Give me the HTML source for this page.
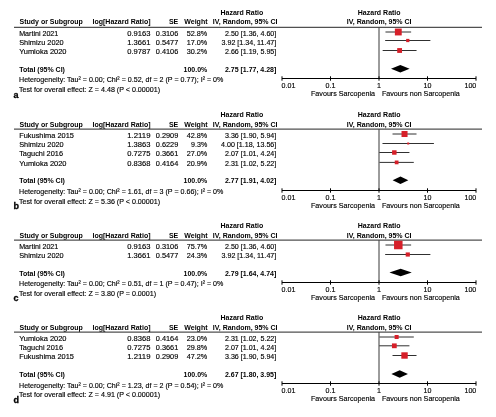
<!DOCTYPE html>
<html><head><meta charset="utf-8"><title>Forest plots</title>
<style>html,body{margin:0;padding:0;background:#fff;}body{width:496px;height:417px;overflow:hidden;font-family:"Liberation Sans",sans-serif;}svg{display:block;will-change:transform;}</style>
</head><body>
<svg width="496" height="417" viewBox="0 0 496 417" font-family="Liberation Sans, sans-serif"><text x="220.50" y="15.10" font-size="7" font-weight="bold" fill="#000">Hazard Ratio</text>
<text x="379.20" y="15.10" font-size="7" font-weight="bold" text-anchor="middle" fill="#000">Hazard Ratio</text>
<text x="19.50" y="24.30" font-size="7" font-weight="bold" fill="#000">Study or Subgroup</text>
<text x="150.50" y="24.30" font-size="7" font-weight="bold" text-anchor="end" fill="#000">log[Hazard Ratio]</text>
<text x="178.30" y="24.30" font-size="7" font-weight="bold" text-anchor="end" fill="#000">SE</text>
<text x="207.50" y="24.30" font-size="7" font-weight="bold" text-anchor="end" fill="#000">Weight</text>
<text x="212.80" y="24.30" font-size="7" font-weight="bold" fill="#000">IV, Random, 95% CI</text>
<text x="379.20" y="24.30" font-size="7" font-weight="bold" text-anchor="middle" fill="#000">IV, Random, 95% CI</text>
<line x1="14.00" y1="27.30" x2="482.00" y2="27.30" stroke="#505050" stroke-width="1.2"/>
<text x="19.20" y="35.75" font-size="7.5" fill="#000" stroke="#000" stroke-width="0.15" textLength="39.07" lengthAdjust="spacingAndGlyphs">Martini 2021</text>
<text x="150.50" y="35.75" font-size="7.5" text-anchor="end" fill="#000" stroke="#000" stroke-width="0.15" textLength="23.20" lengthAdjust="spacingAndGlyphs">0.9163</text>
<text x="178.30" y="35.75" font-size="7.5" text-anchor="end" fill="#000" stroke="#000" stroke-width="0.15" textLength="22.50" lengthAdjust="spacingAndGlyphs">0.3106</text>
<text x="207.30" y="35.75" font-size="7.5" text-anchor="end" fill="#000" stroke="#000" stroke-width="0.15" textLength="20.60" lengthAdjust="spacingAndGlyphs">52.8%</text>
<text x="276.30" y="35.75" font-size="7.5" text-anchor="end" fill="#000" stroke="#000" stroke-width="0.15" textLength="51.32" lengthAdjust="spacingAndGlyphs">2.50 [1.36, 4.60]</text>
<line x1="385.48" y1="32.00" x2="411.14" y2="32.00" stroke="#303030" stroke-width="1"/>
<rect x="394.87" y="28.57" width="6.86" height="6.86" fill="#d61f29"/>
<text x="19.20" y="44.50" font-size="7.5" fill="#000" stroke="#000" stroke-width="0.15" textLength="44.50" lengthAdjust="spacingAndGlyphs">Shimizu 2020</text>
<text x="150.50" y="44.50" font-size="7.5" text-anchor="end" fill="#000" stroke="#000" stroke-width="0.15" textLength="23.20" lengthAdjust="spacingAndGlyphs">1.3661</text>
<text x="178.30" y="44.50" font-size="7.5" text-anchor="end" fill="#000" stroke="#000" stroke-width="0.15" textLength="22.50" lengthAdjust="spacingAndGlyphs">0.5477</text>
<text x="207.30" y="44.50" font-size="7.5" text-anchor="end" fill="#000" stroke="#000" stroke-width="0.15" textLength="20.60" lengthAdjust="spacingAndGlyphs">17.0%</text>
<text x="276.30" y="44.50" font-size="7.5" text-anchor="end" fill="#000" stroke="#000" stroke-width="0.15" textLength="54.74" lengthAdjust="spacingAndGlyphs">3.92 [1.34, 11.47]</text>
<line x1="385.16" y1="40.50" x2="430.39" y2="40.50" stroke="#303030" stroke-width="1"/>
<rect x="406.15" y="38.88" width="3.24" height="3.24" fill="#d61f29"/>
<text x="19.20" y="53.75" font-size="7.5" fill="#000" stroke="#000" stroke-width="0.15" textLength="47.30" lengthAdjust="spacingAndGlyphs">Yumioka 2020</text>
<text x="150.50" y="53.75" font-size="7.5" text-anchor="end" fill="#000" stroke="#000" stroke-width="0.15" textLength="23.20" lengthAdjust="spacingAndGlyphs">0.9787</text>
<text x="178.30" y="53.75" font-size="7.5" text-anchor="end" fill="#000" stroke="#000" stroke-width="0.15" textLength="22.50" lengthAdjust="spacingAndGlyphs">0.4106</text>
<text x="207.30" y="53.75" font-size="7.5" text-anchor="end" fill="#000" stroke="#000" stroke-width="0.15" textLength="20.60" lengthAdjust="spacingAndGlyphs">30.2%</text>
<text x="276.30" y="53.75" font-size="7.5" text-anchor="end" fill="#000" stroke="#000" stroke-width="0.15" textLength="51.32" lengthAdjust="spacingAndGlyphs">2.66 [1.19, 5.95]</text>
<line x1="382.66" y1="50.50" x2="416.56" y2="50.50" stroke="#303030" stroke-width="1"/>
<rect x="397.20" y="48.09" width="4.82" height="4.82" fill="#d61f29"/>
<text x="19.20" y="71.75" font-size="7" font-weight="bold" fill="#000">Total (95% CI)</text>
<text x="207.30" y="71.75" font-size="7" font-weight="bold" text-anchor="end" fill="#000">100.0%</text>
<text x="276.30" y="71.75" font-size="7" font-weight="bold" text-anchor="end" fill="#000">2.75 [1.77, 4.28]</text>
<polygon points="391.03,68.85 400.31,65.10 409.63,68.85 400.31,72.60" fill="#000"/>
<text x="19.00" y="82.30" font-size="7.5" fill="#000" stroke="#000" stroke-width="0.15" textLength="204.38" lengthAdjust="spacingAndGlyphs">Heterogeneity: Tau² = 0.00; Chi² = 0.52, df = 2 (P = 0.77); I² = 0%</text>
<text x="19.00" y="92.20" font-size="7.5" fill="#000" stroke="#000" stroke-width="0.15" textLength="141.03" lengthAdjust="spacingAndGlyphs">Test for overall effect: Z = 4.48 (P &lt; 0.00001)</text>
<text x="13.40" y="98.00" font-size="9" font-weight="bold" fill="#000" stroke="#000" stroke-width="0.3">a</text>
<line x1="379.00" y1="27.30" x2="379.00" y2="78.50" stroke="#383838" stroke-width="1"/>
<line x1="282.00" y1="78.50" x2="476.00" y2="78.50" stroke="#000" stroke-width="1"/>
<line x1="282.00" y1="76.30" x2="282.00" y2="80.70" stroke="#000" stroke-width="1"/>
<line x1="330.50" y1="76.30" x2="330.50" y2="80.70" stroke="#000" stroke-width="1"/>
<line x1="379.00" y1="76.30" x2="379.00" y2="80.70" stroke="#000" stroke-width="1"/>
<line x1="427.50" y1="76.30" x2="427.50" y2="80.70" stroke="#000" stroke-width="1"/>
<line x1="476.00" y1="76.30" x2="476.00" y2="80.70" stroke="#000" stroke-width="1"/>
<text x="281.60" y="87.60" font-size="7.5" fill="#000" stroke="#000" stroke-width="0.15" textLength="13.82" lengthAdjust="spacingAndGlyphs">0.01</text>
<text x="330.50" y="87.60" font-size="7.5" text-anchor="middle" fill="#000" stroke="#000" stroke-width="0.15" textLength="9.87" lengthAdjust="spacingAndGlyphs">0.1</text>
<text x="379.00" y="87.60" font-size="7.5" text-anchor="middle" fill="#000" stroke="#000" stroke-width="0.15" textLength="3.95" lengthAdjust="spacingAndGlyphs">1</text>
<text x="427.50" y="87.60" font-size="7.5" text-anchor="middle" fill="#000" stroke="#000" stroke-width="0.15" textLength="7.90" lengthAdjust="spacingAndGlyphs">10</text>
<text x="476.30" y="87.60" font-size="7.5" text-anchor="end" fill="#000" stroke="#000" stroke-width="0.15" textLength="11.85" lengthAdjust="spacingAndGlyphs">100</text>
<text x="375.00" y="95.70" font-size="7.5" text-anchor="end" fill="#000" stroke="#000" stroke-width="0.15" textLength="63.99" lengthAdjust="spacingAndGlyphs">Favours Sarcopenia</text>
<text x="381.90" y="95.70" font-size="7.5" fill="#000" stroke="#000" stroke-width="0.15" textLength="77.90" lengthAdjust="spacingAndGlyphs">Favours non Sarcopenia</text>
<text x="220.50" y="116.80" font-size="7" font-weight="bold" fill="#000">Hazard Ratio</text>
<text x="379.20" y="116.80" font-size="7" font-weight="bold" text-anchor="middle" fill="#000">Hazard Ratio</text>
<text x="19.50" y="126.50" font-size="7" font-weight="bold" fill="#000">Study or Subgroup</text>
<text x="150.50" y="126.50" font-size="7" font-weight="bold" text-anchor="end" fill="#000">log[Hazard Ratio]</text>
<text x="178.30" y="126.50" font-size="7" font-weight="bold" text-anchor="end" fill="#000">SE</text>
<text x="207.50" y="126.50" font-size="7" font-weight="bold" text-anchor="end" fill="#000">Weight</text>
<text x="212.80" y="126.50" font-size="7" font-weight="bold" fill="#000">IV, Random, 95% CI</text>
<text x="379.20" y="126.50" font-size="7" font-weight="bold" text-anchor="middle" fill="#000">IV, Random, 95% CI</text>
<line x1="14.00" y1="129.10" x2="482.00" y2="129.10" stroke="#505050" stroke-width="1.2"/>
<text x="19.20" y="138.00" font-size="7.5" fill="#000" stroke="#000" stroke-width="0.15" textLength="54.70" lengthAdjust="spacingAndGlyphs">Fukushima 2015</text>
<text x="150.50" y="138.00" font-size="7.5" text-anchor="end" fill="#000" stroke="#000" stroke-width="0.15" textLength="23.20" lengthAdjust="spacingAndGlyphs">1.2119</text>
<text x="178.30" y="138.00" font-size="7.5" text-anchor="end" fill="#000" stroke="#000" stroke-width="0.15" textLength="22.50" lengthAdjust="spacingAndGlyphs">0.2909</text>
<text x="207.30" y="138.00" font-size="7.5" text-anchor="end" fill="#000" stroke="#000" stroke-width="0.15" textLength="20.60" lengthAdjust="spacingAndGlyphs">42.8%</text>
<text x="276.30" y="138.00" font-size="7.5" text-anchor="end" fill="#000" stroke="#000" stroke-width="0.15" textLength="51.32" lengthAdjust="spacingAndGlyphs">3.36 [1.90, 5.94]</text>
<line x1="392.52" y1="134.00" x2="416.53" y2="134.00" stroke="#303030" stroke-width="1"/>
<rect x="401.52" y="130.99" width="6.02" height="6.02" fill="#d61f29"/>
<text x="19.20" y="147.00" font-size="7.5" fill="#000" stroke="#000" stroke-width="0.15" textLength="44.50" lengthAdjust="spacingAndGlyphs">Shimizu 2020</text>
<text x="150.50" y="147.00" font-size="7.5" text-anchor="end" fill="#000" stroke="#000" stroke-width="0.15" textLength="23.20" lengthAdjust="spacingAndGlyphs">1.3863</text>
<text x="178.30" y="147.00" font-size="7.5" text-anchor="end" fill="#000" stroke="#000" stroke-width="0.15" textLength="22.50" lengthAdjust="spacingAndGlyphs">0.6229</text>
<text x="207.30" y="147.00" font-size="7.5" text-anchor="end" fill="#000" stroke="#000" stroke-width="0.15" textLength="16.18" lengthAdjust="spacingAndGlyphs">9.3%</text>
<text x="276.30" y="147.00" font-size="7.5" text-anchor="end" fill="#000" stroke="#000" stroke-width="0.15" textLength="55.27" lengthAdjust="spacingAndGlyphs">4.00 [1.18, 13.56]</text>
<line x1="382.49" y1="143.50" x2="433.91" y2="143.50" stroke="#303030" stroke-width="1"/>
<rect x="407.20" y="142.50" width="2.01" height="2.01" fill="#d61f29"/>
<text x="19.20" y="156.00" font-size="7.5" fill="#000" stroke="#000" stroke-width="0.15" textLength="43.80" lengthAdjust="spacingAndGlyphs">Taguchi 2016</text>
<text x="150.50" y="156.00" font-size="7.5" text-anchor="end" fill="#000" stroke="#000" stroke-width="0.15" textLength="23.20" lengthAdjust="spacingAndGlyphs">0.7275</text>
<text x="178.30" y="156.00" font-size="7.5" text-anchor="end" fill="#000" stroke="#000" stroke-width="0.15" textLength="22.50" lengthAdjust="spacingAndGlyphs">0.3661</text>
<text x="207.30" y="156.00" font-size="7.5" text-anchor="end" fill="#000" stroke="#000" stroke-width="0.15" textLength="20.60" lengthAdjust="spacingAndGlyphs">27.0%</text>
<text x="276.30" y="156.00" font-size="7.5" text-anchor="end" fill="#000" stroke="#000" stroke-width="0.15" textLength="51.32" lengthAdjust="spacingAndGlyphs">2.07 [1.01, 4.24]</text>
<line x1="379.21" y1="152.50" x2="409.43" y2="152.50" stroke="#303030" stroke-width="1"/>
<rect x="392.09" y="150.26" width="4.48" height="4.48" fill="#d61f29"/>
<text x="19.20" y="165.50" font-size="7.5" fill="#000" stroke="#000" stroke-width="0.15" textLength="47.30" lengthAdjust="spacingAndGlyphs">Yumioka 2020</text>
<text x="150.50" y="165.50" font-size="7.5" text-anchor="end" fill="#000" stroke="#000" stroke-width="0.15" textLength="23.20" lengthAdjust="spacingAndGlyphs">0.8368</text>
<text x="178.30" y="165.50" font-size="7.5" text-anchor="end" fill="#000" stroke="#000" stroke-width="0.15" textLength="22.50" lengthAdjust="spacingAndGlyphs">0.4164</text>
<text x="207.30" y="165.50" font-size="7.5" text-anchor="end" fill="#000" stroke="#000" stroke-width="0.15" textLength="20.60" lengthAdjust="spacingAndGlyphs">20.9%</text>
<text x="276.30" y="165.50" font-size="7.5" text-anchor="end" fill="#000" stroke="#000" stroke-width="0.15" textLength="51.32" lengthAdjust="spacingAndGlyphs">2.31 [1.02, 5.22]</text>
<line x1="379.42" y1="162.40" x2="413.81" y2="162.40" stroke="#303030" stroke-width="1"/>
<rect x="394.76" y="160.52" width="3.76" height="3.76" fill="#d61f29"/>
<text x="19.20" y="183.10" font-size="7" font-weight="bold" fill="#000">Total (95% CI)</text>
<text x="207.30" y="183.10" font-size="7" font-weight="bold" text-anchor="end" fill="#000">100.0%</text>
<text x="276.30" y="183.10" font-size="7" font-weight="bold" text-anchor="end" fill="#000">2.77 [1.91, 4.02]</text>
<polygon points="392.63,180.20 400.46,176.45 408.30,180.20 400.46,183.95" fill="#000"/>
<text x="19.00" y="194.00" font-size="7.5" fill="#000" stroke="#000" stroke-width="0.15" textLength="204.38" lengthAdjust="spacingAndGlyphs">Heterogeneity: Tau² = 0.00; Chi² = 1.61, df = 3 (P = 0.66); I² = 0%</text>
<text x="19.00" y="204.10" font-size="7.5" fill="#000" stroke="#000" stroke-width="0.15" textLength="141.03" lengthAdjust="spacingAndGlyphs">Test for overall effect: Z = 5.36 (P &lt; 0.00001)</text>
<text x="13.40" y="209.00" font-size="9" font-weight="bold" fill="#000" stroke="#000" stroke-width="0.3">b</text>
<line x1="379.00" y1="129.10" x2="379.00" y2="190.50" stroke="#383838" stroke-width="1"/>
<line x1="282.00" y1="190.50" x2="476.00" y2="190.50" stroke="#000" stroke-width="1"/>
<line x1="282.00" y1="188.30" x2="282.00" y2="192.70" stroke="#000" stroke-width="1"/>
<line x1="330.50" y1="188.30" x2="330.50" y2="192.70" stroke="#000" stroke-width="1"/>
<line x1="379.00" y1="188.30" x2="379.00" y2="192.70" stroke="#000" stroke-width="1"/>
<line x1="427.50" y1="188.30" x2="427.50" y2="192.70" stroke="#000" stroke-width="1"/>
<line x1="476.00" y1="188.30" x2="476.00" y2="192.70" stroke="#000" stroke-width="1"/>
<text x="281.60" y="199.60" font-size="7.5" fill="#000" stroke="#000" stroke-width="0.15" textLength="13.82" lengthAdjust="spacingAndGlyphs">0.01</text>
<text x="330.50" y="199.60" font-size="7.5" text-anchor="middle" fill="#000" stroke="#000" stroke-width="0.15" textLength="9.87" lengthAdjust="spacingAndGlyphs">0.1</text>
<text x="379.00" y="199.60" font-size="7.5" text-anchor="middle" fill="#000" stroke="#000" stroke-width="0.15" textLength="3.95" lengthAdjust="spacingAndGlyphs">1</text>
<text x="427.50" y="199.60" font-size="7.5" text-anchor="middle" fill="#000" stroke="#000" stroke-width="0.15" textLength="7.90" lengthAdjust="spacingAndGlyphs">10</text>
<text x="476.30" y="199.60" font-size="7.5" text-anchor="end" fill="#000" stroke="#000" stroke-width="0.15" textLength="11.85" lengthAdjust="spacingAndGlyphs">100</text>
<text x="375.00" y="207.80" font-size="7.5" text-anchor="end" fill="#000" stroke="#000" stroke-width="0.15" textLength="63.99" lengthAdjust="spacingAndGlyphs">Favours Sarcopenia</text>
<text x="381.90" y="207.80" font-size="7.5" fill="#000" stroke="#000" stroke-width="0.15" textLength="77.90" lengthAdjust="spacingAndGlyphs">Favours non Sarcopenia</text>
<text x="220.50" y="227.80" font-size="7" font-weight="bold" fill="#000">Hazard Ratio</text>
<text x="379.20" y="227.80" font-size="7" font-weight="bold" text-anchor="middle" fill="#000">Hazard Ratio</text>
<text x="19.50" y="237.50" font-size="7" font-weight="bold" fill="#000">Study or Subgroup</text>
<text x="150.50" y="237.50" font-size="7" font-weight="bold" text-anchor="end" fill="#000">log[Hazard Ratio]</text>
<text x="178.30" y="237.50" font-size="7" font-weight="bold" text-anchor="end" fill="#000">SE</text>
<text x="207.50" y="237.50" font-size="7" font-weight="bold" text-anchor="end" fill="#000">Weight</text>
<text x="212.80" y="237.50" font-size="7" font-weight="bold" fill="#000">IV, Random, 95% CI</text>
<text x="379.20" y="237.50" font-size="7" font-weight="bold" text-anchor="middle" fill="#000">IV, Random, 95% CI</text>
<line x1="14.00" y1="240.20" x2="482.00" y2="240.20" stroke="#505050" stroke-width="1.2"/>
<text x="19.20" y="248.60" font-size="7.5" fill="#000" stroke="#000" stroke-width="0.15" textLength="39.07" lengthAdjust="spacingAndGlyphs">Martini 2021</text>
<text x="150.50" y="248.60" font-size="7.5" text-anchor="end" fill="#000" stroke="#000" stroke-width="0.15" textLength="23.20" lengthAdjust="spacingAndGlyphs">0.9163</text>
<text x="178.30" y="248.60" font-size="7.5" text-anchor="end" fill="#000" stroke="#000" stroke-width="0.15" textLength="22.50" lengthAdjust="spacingAndGlyphs">0.3106</text>
<text x="207.30" y="248.60" font-size="7.5" text-anchor="end" fill="#000" stroke="#000" stroke-width="0.15" textLength="20.60" lengthAdjust="spacingAndGlyphs">75.7%</text>
<text x="276.30" y="248.60" font-size="7.5" text-anchor="end" fill="#000" stroke="#000" stroke-width="0.15" textLength="51.32" lengthAdjust="spacingAndGlyphs">2.50 [1.36, 4.60]</text>
<line x1="385.48" y1="245.00" x2="411.14" y2="245.00" stroke="#303030" stroke-width="1"/>
<rect x="394.05" y="240.75" width="8.51" height="8.51" fill="#d61f29"/>
<text x="19.20" y="258.30" font-size="7.5" fill="#000" stroke="#000" stroke-width="0.15" textLength="44.50" lengthAdjust="spacingAndGlyphs">Shimizu 2020</text>
<text x="150.50" y="258.30" font-size="7.5" text-anchor="end" fill="#000" stroke="#000" stroke-width="0.15" textLength="23.20" lengthAdjust="spacingAndGlyphs">1.3661</text>
<text x="178.30" y="258.30" font-size="7.5" text-anchor="end" fill="#000" stroke="#000" stroke-width="0.15" textLength="22.50" lengthAdjust="spacingAndGlyphs">0.5477</text>
<text x="207.30" y="258.30" font-size="7.5" text-anchor="end" fill="#000" stroke="#000" stroke-width="0.15" textLength="20.60" lengthAdjust="spacingAndGlyphs">24.3%</text>
<text x="276.30" y="258.30" font-size="7.5" text-anchor="end" fill="#000" stroke="#000" stroke-width="0.15" textLength="54.74" lengthAdjust="spacingAndGlyphs">3.92 [1.34, 11.47]</text>
<line x1="385.16" y1="254.50" x2="430.39" y2="254.50" stroke="#303030" stroke-width="1"/>
<rect x="405.69" y="252.42" width="4.17" height="4.17" fill="#d61f29"/>
<text x="19.20" y="275.50" font-size="7" font-weight="bold" fill="#000">Total (95% CI)</text>
<text x="207.30" y="275.50" font-size="7" font-weight="bold" text-anchor="end" fill="#000">100.0%</text>
<text x="276.30" y="275.50" font-size="7" font-weight="bold" text-anchor="end" fill="#000">2.79 [1.64, 4.74]</text>
<polygon points="389.42,272.60 400.61,268.85 411.78,272.60 400.61,276.35" fill="#000"/>
<text x="19.00" y="286.40" font-size="7.5" fill="#000" stroke="#000" stroke-width="0.15" textLength="204.38" lengthAdjust="spacingAndGlyphs">Heterogeneity: Tau² = 0.00; Chi² = 0.51, df = 1 (P = 0.47); I² = 0%</text>
<text x="19.00" y="296.00" font-size="7.5" fill="#000" stroke="#000" stroke-width="0.15" textLength="137.07" lengthAdjust="spacingAndGlyphs">Test for overall effect: Z = 3.80 (P = 0.0001)</text>
<text x="13.40" y="300.75" font-size="9" font-weight="bold" fill="#000" stroke="#000" stroke-width="0.3">c</text>
<line x1="379.00" y1="240.20" x2="379.00" y2="282.50" stroke="#383838" stroke-width="1"/>
<line x1="282.00" y1="282.50" x2="476.00" y2="282.50" stroke="#000" stroke-width="1"/>
<line x1="282.00" y1="280.30" x2="282.00" y2="284.70" stroke="#000" stroke-width="1"/>
<line x1="330.50" y1="280.30" x2="330.50" y2="284.70" stroke="#000" stroke-width="1"/>
<line x1="379.00" y1="280.30" x2="379.00" y2="284.70" stroke="#000" stroke-width="1"/>
<line x1="427.50" y1="280.30" x2="427.50" y2="284.70" stroke="#000" stroke-width="1"/>
<line x1="476.00" y1="280.30" x2="476.00" y2="284.70" stroke="#000" stroke-width="1"/>
<text x="281.60" y="291.60" font-size="7.5" fill="#000" stroke="#000" stroke-width="0.15" textLength="13.82" lengthAdjust="spacingAndGlyphs">0.01</text>
<text x="330.50" y="291.60" font-size="7.5" text-anchor="middle" fill="#000" stroke="#000" stroke-width="0.15" textLength="9.87" lengthAdjust="spacingAndGlyphs">0.1</text>
<text x="379.00" y="291.60" font-size="7.5" text-anchor="middle" fill="#000" stroke="#000" stroke-width="0.15" textLength="3.95" lengthAdjust="spacingAndGlyphs">1</text>
<text x="427.50" y="291.60" font-size="7.5" text-anchor="middle" fill="#000" stroke="#000" stroke-width="0.15" textLength="7.90" lengthAdjust="spacingAndGlyphs">10</text>
<text x="476.30" y="291.60" font-size="7.5" text-anchor="end" fill="#000" stroke="#000" stroke-width="0.15" textLength="11.85" lengthAdjust="spacingAndGlyphs">100</text>
<text x="375.00" y="299.80" font-size="7.5" text-anchor="end" fill="#000" stroke="#000" stroke-width="0.15" textLength="63.99" lengthAdjust="spacingAndGlyphs">Favours Sarcopenia</text>
<text x="381.90" y="299.80" font-size="7.5" fill="#000" stroke="#000" stroke-width="0.15" textLength="77.90" lengthAdjust="spacingAndGlyphs">Favours non Sarcopenia</text>
<text x="220.50" y="320.20" font-size="7" font-weight="bold" fill="#000">Hazard Ratio</text>
<text x="379.20" y="320.20" font-size="7" font-weight="bold" text-anchor="middle" fill="#000">Hazard Ratio</text>
<text x="19.50" y="329.80" font-size="7" font-weight="bold" fill="#000">Study or Subgroup</text>
<text x="150.50" y="329.80" font-size="7" font-weight="bold" text-anchor="end" fill="#000">log[Hazard Ratio]</text>
<text x="178.30" y="329.80" font-size="7" font-weight="bold" text-anchor="end" fill="#000">SE</text>
<text x="207.50" y="329.80" font-size="7" font-weight="bold" text-anchor="end" fill="#000">Weight</text>
<text x="212.80" y="329.80" font-size="7" font-weight="bold" fill="#000">IV, Random, 95% CI</text>
<text x="379.20" y="329.80" font-size="7" font-weight="bold" text-anchor="middle" fill="#000">IV, Random, 95% CI</text>
<line x1="14.00" y1="332.10" x2="482.00" y2="332.10" stroke="#505050" stroke-width="1.2"/>
<text x="19.20" y="340.60" font-size="7.5" fill="#000" stroke="#000" stroke-width="0.15" textLength="47.30" lengthAdjust="spacingAndGlyphs">Yumioka 2020</text>
<text x="150.50" y="340.60" font-size="7.5" text-anchor="end" fill="#000" stroke="#000" stroke-width="0.15" textLength="23.20" lengthAdjust="spacingAndGlyphs">0.8368</text>
<text x="178.30" y="340.60" font-size="7.5" text-anchor="end" fill="#000" stroke="#000" stroke-width="0.15" textLength="22.50" lengthAdjust="spacingAndGlyphs">0.4164</text>
<text x="207.30" y="340.60" font-size="7.5" text-anchor="end" fill="#000" stroke="#000" stroke-width="0.15" textLength="20.60" lengthAdjust="spacingAndGlyphs">23.0%</text>
<text x="276.30" y="340.60" font-size="7.5" text-anchor="end" fill="#000" stroke="#000" stroke-width="0.15" textLength="51.32" lengthAdjust="spacingAndGlyphs">2.31 [1.02, 5.22]</text>
<line x1="379.42" y1="337.00" x2="413.81" y2="337.00" stroke="#303030" stroke-width="1"/>
<rect x="394.63" y="334.99" width="4.02" height="4.02" fill="#d61f29"/>
<text x="19.20" y="349.75" font-size="7.5" fill="#000" stroke="#000" stroke-width="0.15" textLength="43.80" lengthAdjust="spacingAndGlyphs">Taguchi 2016</text>
<text x="150.50" y="349.75" font-size="7.5" text-anchor="end" fill="#000" stroke="#000" stroke-width="0.15" textLength="23.20" lengthAdjust="spacingAndGlyphs">0.7275</text>
<text x="178.30" y="349.75" font-size="7.5" text-anchor="end" fill="#000" stroke="#000" stroke-width="0.15" textLength="22.50" lengthAdjust="spacingAndGlyphs">0.3661</text>
<text x="207.30" y="349.75" font-size="7.5" text-anchor="end" fill="#000" stroke="#000" stroke-width="0.15" textLength="20.60" lengthAdjust="spacingAndGlyphs">29.8%</text>
<text x="276.30" y="349.75" font-size="7.5" text-anchor="end" fill="#000" stroke="#000" stroke-width="0.15" textLength="51.32" lengthAdjust="spacingAndGlyphs">2.07 [1.01, 4.24]</text>
<line x1="379.21" y1="345.80" x2="409.43" y2="345.80" stroke="#303030" stroke-width="1"/>
<rect x="391.94" y="343.41" width="4.78" height="4.78" fill="#d61f29"/>
<text x="19.20" y="359.40" font-size="7.5" fill="#000" stroke="#000" stroke-width="0.15" textLength="54.70" lengthAdjust="spacingAndGlyphs">Fukushima 2015</text>
<text x="150.50" y="359.40" font-size="7.5" text-anchor="end" fill="#000" stroke="#000" stroke-width="0.15" textLength="23.20" lengthAdjust="spacingAndGlyphs">1.2119</text>
<text x="178.30" y="359.40" font-size="7.5" text-anchor="end" fill="#000" stroke="#000" stroke-width="0.15" textLength="22.50" lengthAdjust="spacingAndGlyphs">0.2909</text>
<text x="207.30" y="359.40" font-size="7.5" text-anchor="end" fill="#000" stroke="#000" stroke-width="0.15" textLength="20.60" lengthAdjust="spacingAndGlyphs">47.2%</text>
<text x="276.30" y="359.40" font-size="7.5" text-anchor="end" fill="#000" stroke="#000" stroke-width="0.15" textLength="51.32" lengthAdjust="spacingAndGlyphs">3.36 [1.90, 5.94]</text>
<line x1="392.52" y1="355.50" x2="416.53" y2="355.50" stroke="#303030" stroke-width="1"/>
<rect x="401.33" y="352.30" width="6.40" height="6.40" fill="#d61f29"/>
<text x="19.20" y="376.90" font-size="7" font-weight="bold" fill="#000">Total (95% CI)</text>
<text x="207.30" y="376.90" font-size="7" font-weight="bold" text-anchor="end" fill="#000">100.0%</text>
<text x="276.30" y="376.90" font-size="7" font-weight="bold" text-anchor="end" fill="#000">2.67 [1.80, 3.95]</text>
<polygon points="391.38,374.00 399.69,370.25 407.93,374.00 399.69,377.75" fill="#000"/>
<text x="19.00" y="387.75" font-size="7.5" fill="#000" stroke="#000" stroke-width="0.15" textLength="204.38" lengthAdjust="spacingAndGlyphs">Heterogeneity: Tau² = 0.00; Chi² = 1.23, df = 2 (P = 0.54); I² = 0%</text>
<text x="19.00" y="397.25" font-size="7.5" fill="#000" stroke="#000" stroke-width="0.15" textLength="141.03" lengthAdjust="spacingAndGlyphs">Test for overall effect: Z = 4.91 (P &lt; 0.00001)</text>
<text x="13.40" y="402.70" font-size="9" font-weight="bold" fill="#000" stroke="#000" stroke-width="0.3">d</text>
<line x1="379.00" y1="332.10" x2="379.00" y2="383.50" stroke="#383838" stroke-width="1"/>
<line x1="282.00" y1="383.50" x2="476.00" y2="383.50" stroke="#000" stroke-width="1"/>
<line x1="282.00" y1="381.30" x2="282.00" y2="385.70" stroke="#000" stroke-width="1"/>
<line x1="330.50" y1="381.30" x2="330.50" y2="385.70" stroke="#000" stroke-width="1"/>
<line x1="379.00" y1="381.30" x2="379.00" y2="385.70" stroke="#000" stroke-width="1"/>
<line x1="427.50" y1="381.30" x2="427.50" y2="385.70" stroke="#000" stroke-width="1"/>
<line x1="476.00" y1="381.30" x2="476.00" y2="385.70" stroke="#000" stroke-width="1"/>
<text x="281.60" y="392.50" font-size="7.5" fill="#000" stroke="#000" stroke-width="0.15" textLength="13.82" lengthAdjust="spacingAndGlyphs">0.01</text>
<text x="330.50" y="392.50" font-size="7.5" text-anchor="middle" fill="#000" stroke="#000" stroke-width="0.15" textLength="9.87" lengthAdjust="spacingAndGlyphs">0.1</text>
<text x="379.00" y="392.50" font-size="7.5" text-anchor="middle" fill="#000" stroke="#000" stroke-width="0.15" textLength="3.95" lengthAdjust="spacingAndGlyphs">1</text>
<text x="427.50" y="392.50" font-size="7.5" text-anchor="middle" fill="#000" stroke="#000" stroke-width="0.15" textLength="7.90" lengthAdjust="spacingAndGlyphs">10</text>
<text x="476.30" y="392.50" font-size="7.5" text-anchor="end" fill="#000" stroke="#000" stroke-width="0.15" textLength="11.85" lengthAdjust="spacingAndGlyphs">100</text>
<text x="375.00" y="400.80" font-size="7.5" text-anchor="end" fill="#000" stroke="#000" stroke-width="0.15" textLength="63.99" lengthAdjust="spacingAndGlyphs">Favours Sarcopenia</text>
<text x="381.90" y="400.80" font-size="7.5" fill="#000" stroke="#000" stroke-width="0.15" textLength="77.90" lengthAdjust="spacingAndGlyphs">Favours non Sarcopenia</text></svg>
</body></html>
